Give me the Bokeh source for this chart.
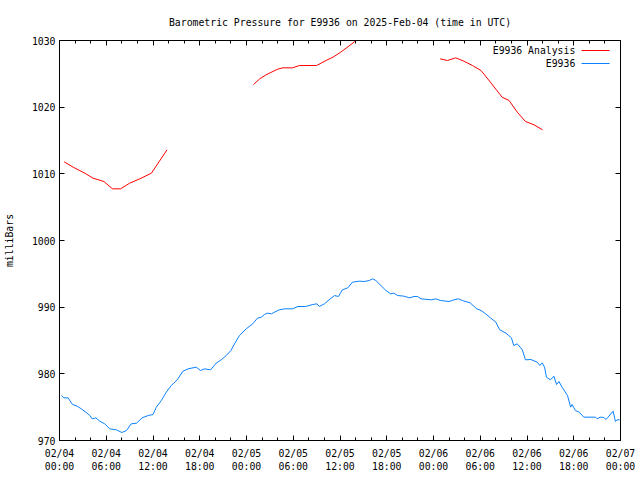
import numpy as np
from bokeh.plotting import figure
from bokeh.models import Range1d, LinearAxis, FixedTicker, Label, Arrow
from bokeh.embed import file_html
from bokeh.resources import INLINE

# ---- data (hours since 2025-02-04 00:00 UTC, pressure in millibars) ----
obs_hours = [0.26, 0.55, 1.1, 1.67, 2.26, 2.8, 3.37, 3.9, 4.2, 4.66, 5.17, 5.8, 6.45, 7.3, 8.0, 8.6,
             9.2, 9.9, 10.6, 11.4, 12.0, 12.43, 13.07, 13.7, 14.35, 15.1, 15.85, 16.5, 17.55, 18.1,
             18.6, 19.4, 20.1, 20.75, 21.4, 22.0, 22.46, 23.1, 23.96, 24.8, 25.4, 25.9, 26.3, 26.7,
             27.2, 27.6, 28.2, 28.9, 29.9, 30.6, 31.6, 32.5, 33.05, 33.35, 34.0, 34.6, 35.3, 35.8,
             36.3, 37.0, 37.6, 38.5, 39.1, 39.75, 40.2, 40.6, 41.25, 41.9, 42.5, 42.9, 43.4, 44.2,
             44.9, 45.5, 45.95, 46.4, 47.7, 48.3, 48.9, 50.0, 50.6, 51.2, 51.7, 52.7, 53.55, 54.1,
             54.7, 55.3, 56.0, 56.5, 57.3, 58.0, 58.3, 58.75, 59.4, 59.8, 60.5, 61.3, 61.65, 61.95,
             62.25, 62.5, 63.0, 63.45, 63.8, 64.1, 64.5, 65.2, 65.6, 65.8, 66.2, 66.7, 67.3, 68.8,
             69.0, 69.4, 69.85, 70.15, 71.05, 71.35, 71.55, 71.9]
obs_mb = [976.75, 976.4, 976.4, 975.4, 975.15, 974.75, 974.25, 973.75, 973.25, 973.4, 972.9, 972.5,
          971.75, 971.6, 971.2, 971.5, 972.5, 972.6, 973.4, 973.75, 973.9, 975.0, 976.0, 977.25,
          978.25, 979.1, 980.4, 980.75, 981.0, 980.5, 980.75, 980.6, 981.6, 982.1, 982.75, 983.5,
          984.5, 985.75, 986.75, 987.5, 988.35, 988.5, 988.9, 989.1, 989.0, 989.25, 989.6, 989.75,
          989.75, 990.1, 990.1, 990.4, 990.5, 990.1, 990.5, 991.1, 991.75, 991.6, 992.6, 992.9,
          993.75, 993.9, 993.85, 994.0, 994.25, 994.0, 993.25, 992.5, 992.0, 992.1, 991.75, 991.65,
          991.4, 991.6, 991.6, 991.25, 991.1, 991.25, 991.0, 990.85, 991.1, 991.25, 991.0, 990.65,
          989.75, 989.5, 989.0, 988.4, 987.75, 986.6, 986.1, 985.4, 984.25, 984.5, 983.6, 982.1,
          982.15, 981.75, 981.25, 981.65, 981.0, 979.5, 979.1, 979.65, 978.4, 978.85, 978.0,
          976.75, 975.0, 975.4, 974.5, 974.25, 973.5, 973.5, 973.25, 973.5, 973.45, 973.15,
          974.4, 972.85, 973.1, 973.1]

ana_hours = [0.6, 1.75, 3.25, 4.3, 5.7, 6.8, 7.85, 9.0, 10.3, 11.8, 12.6, 13.8, np.nan,
             24.9, 25.7, 26.5, 28.0, 28.65, 29.9, 30.8, 33.0, 34.2, 35.1, 36.1, 37.8, 38.5, np.nan,
             48.85, 49.8, 50.85, 51.9, 53.0, 54.1, 55.3, 56.8, 57.7, 58.75, 59.8, 60.9, 62.0]
ana_mb = [1011.8, 1011.0, 1010.1, 1009.35, 1008.85, 1007.75, 1007.75, 1008.6, 1009.25, 1010.1,
          1011.5, 1013.6, np.nan,
          1023.4, 1024.25, 1024.85, 1025.7, 1025.9, 1025.9, 1026.25, 1026.25, 1027.0, 1027.5,
          1028.25, 1029.75, 1030.5, np.nan,
          1027.25, 1027.0, 1027.4, 1026.9, 1026.25, 1025.5, 1023.75, 1021.5, 1021.0, 1019.25,
          1017.85, 1017.35, 1016.6]

x_ticks = [0, 6, 12, 18, 24, 30, 36, 42, 48, 54, 60, 66, 72]
x_tick_labels = ["02/04\n00:00", "02/04\n06:00", "02/04\n12:00", "02/04\n18:00",
                 "02/05\n00:00", "02/05\n06:00", "02/05\n12:00", "02/05\n18:00",
                 "02/06\n00:00", "02/06\n06:00", "02/06\n12:00", "02/06\n18:00",
                 "02/07\n00:00"]
x_minor = [h for h in range(0, 73, 2)]
y_ticks = [970, 980, 990, 1000, 1010, 1020, 1030]

series_names = ["E9936 Analysis", "E9936"]
series_colors = ["#ff0000", "#0a80ff"]

FONT = "DejaVu Sans Mono"
FS = "9.8px"

p = figure(width=640, height=480, output_backend="svg", toolbar_location=None,
           x_range=Range1d(0, 72), y_range=Range1d(970, 1030),
           min_border_left=58, min_border_right=20, min_border_top=40, min_border_bottom=40,
           x_axis_type=None, y_axis_type=None)
p.xgrid.visible = False
p.ygrid.visible = False
p.outline_line_color = "black"
p.outline_line_alpha = 1.0
p.background_fill_color = "white"
p.border_fill_color = "white"

p.title.text = "Barometric Pressure for E9936 on 2025-Feb-04 (time in UTC)"
p.title.align = "center"
p.title.text_font = FONT
p.title.text_font_size = FS
p.title.text_font_style = "normal"
p.title.text_color = "black"
p.title.standoff = 25


def style(ax):
    ax.axis_line_color = "black"
    ax.major_tick_in = 5
    ax.major_tick_out = 0
    ax.minor_tick_in = 3
    ax.minor_tick_out = 0
    ax.major_tick_line_color = "black"
    ax.minor_tick_line_color = "black"
    ax.major_label_text_font = FONT
    ax.major_label_text_font_size = FS
    ax.major_label_text_color = "black"
    ax.axis_label_text_font = FONT
    ax.axis_label_text_font_size = FS
    ax.axis_label_text_font_style = "normal"
    ax.axis_label_text_color = "black"


xb = LinearAxis(ticker=FixedTicker(ticks=x_ticks, minor_ticks=x_minor),
                major_label_overrides={t: l for t, l in zip(x_ticks, x_tick_labels)})
style(xb)
xb.major_label_standoff = 7
p.add_layout(xb, "below")

# mirrored tick marks (no labels) on the top and right edges, as gnuplot draws them
xa = LinearAxis(ticker=FixedTicker(ticks=x_ticks, minor_ticks=x_minor),
                major_label_overrides={t: "" for t in x_ticks})
style(xa)
xa.major_label_standoff = 0
p.add_layout(xa, "above")

yl = LinearAxis(ticker=FixedTicker(ticks=y_ticks, minor_ticks=[]), axis_label="milliBars")
style(yl)
yl.major_label_standoff = 4
yl.axis_label_standoff = 14
p.add_layout(yl, "left")

yr = LinearAxis(ticker=FixedTicker(ticks=y_ticks, minor_ticks=[]),
                major_label_overrides={t: "" for t in y_ticks})
style(yr)
yr.major_label_standoff = 0
p.add_layout(yr, "right")

p.line(ana_hours, ana_mb, line_color=series_colors[0], line_width=1)
p.line(obs_hours, obs_mb, line_color=series_colors[1], line_width=1)

# gnuplot-style legend: text on the left, sample line on the right
leg_x_text = 66.2
leg_x0, leg_x1 = 67.0, 70.6
leg_y = [1028.5, 1026.55]
for name, col, yy in zip(series_names, series_colors, leg_y):
    p.add_layout(Label(x=leg_x_text, y=yy, text=name, text_align="right", text_baseline="middle",
                       text_font=FONT, text_font_size=FS, text_color="black"))
    p.add_layout(Arrow(end=None, x_start=leg_x0, y_start=yy, x_end=leg_x1, y_end=yy,
                       line_color=col, line_width=1))

open("out.html", "w").write(file_html(p, INLINE))
